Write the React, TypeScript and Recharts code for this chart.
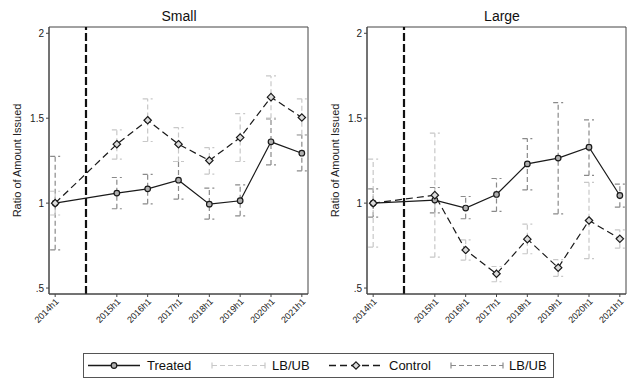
import React from 'react';
import { LineChart, Line, XAxis, YAxis, ErrorBar, ReferenceLine, ReferenceArea, Label } from 'recharts';

// ---- data ----
const periods: (string | null)[] = ['2014h1', null, '2015h1', '2016h1', '2017h1', '2018h1', '2019h1', '2020h1', '2021h1'];

const smallTreated = [1.0, null, 1.059, 1.084, 1.135, 0.994, 1.014, 1.361, 1.294];
const smallTreatedLB = [0.725, null, 0.967, 0.996, 1.024, 0.906, 0.925, 1.225, 1.19];
const smallTreatedUB = [1.275, null, 1.151, 1.169, 1.245, 1.088, 1.108, 1.496, 1.402];
const smallControl = [1.0, null, 1.347, 1.488, 1.347, 1.251, 1.386, 1.624, 1.504];
const smallControlLB = [0.93, null, 1.259, 1.363, 1.245, 1.171, 1.245, 1.5, 1.402];
const smallControlUB = [1.07, null, 1.431, 1.614, 1.445, 1.327, 1.527, 1.749, 1.614];

const largeTreated = [1.0, null, 1.018, 0.971, 1.051, 1.231, 1.265, 1.329, 1.045];
const largeTreatedLB = [0.918, null, 0.943, 0.908, 0.951, 1.078, 0.937, 1.163, 0.976];
const largeTreatedUB = [1.084, null, 1.092, 1.039, 1.145, 1.38, 1.592, 1.49, 1.112];
const largeControl = [1.0, null, 1.047, 0.724, 0.584, 0.788, 0.62, 0.898, 0.79];
const largeControlLB = [0.741, null, 0.682, 0.665, 0.537, 0.702, 0.569, 0.673, 0.735];
const largeControlUB = [1.259, null, 1.412, 0.784, 0.627, 0.876, 0.667, 1.122, 0.843];

const yTicks = [0.5, 1, 1.5, 2];
const yTickLabels = ['.5', '1', '1.5', '2'];
const treatmentGapIndex = periods.indexOf(null);

const legendLabels = ['Treated', 'LB/UB', 'Control', 'LB/UB'];
const yAxisTitle = 'Ratio of Amount Issued';

// ---- styling ----
const FONT = '"Liberation Sans", Arial, Helvetica, sans-serif';
const DARK_BAR = '#8a8a8a';
const LIGHT_BAR = '#c8c8c8';
const FRAME = '#444';
const X_DOMAIN: [number, number] = [-0.2, 8.2];
const Y_DOMAIN: [number, number] = [0.465, 2.037];

function buildRows(t: (number | null)[], tl: (number | null)[], tu: (number | null)[], c: (number | null)[], cl: (number | null)[], cu: (number | null)[]) {
  return periods.map((p, i) => {
    const tv = t[i];
    const cv = c[i];
    return {
      x: i,
      label: p,
      treated: tv,
      control: cv,
      tErr: tv == null ? null : [tv - (tl[i] as number), (tu[i] as number) - tv],
      cErr: cv == null ? null : [cv - (cl[i] as number), (cu[i] as number) - cv],
    };
  });
}

const smallRows = buildRows(smallTreated, smallTreatedLB, smallTreatedUB, smallControl, smallControlLB, smallControlUB);
const largeRows = buildRows(largeTreated, largeTreatedLB, largeTreatedUB, largeControl, largeControlLB, largeControlUB);
const xTicks = periods.map((p, i) => (p == null ? -1 : i)).filter((v) => v >= 0);

const renderTreatedDot = (props: any) => {
  const { cx, cy, value, index } = props;
  if (cx == null || cy == null || value == null) return <g key={`td-${index}`} />;
  return <circle key={`td-${index}`} cx={cx} cy={cy} r={2.8} fill="#b0b0b0" stroke="#1a1a1a" strokeWidth={1.2} />;
};

const renderControlDot = (props: any) => {
  const { cx, cy, value, index } = props;
  if (cx == null || cy == null || value == null) return <g key={`cd-${index}`} />;
  const s = 3.7;
  return (
    <path
      key={`cd-${index}`}
      d={`M${cx},${cy - s}L${cx + s},${cy}L${cx},${cy + s}L${cx - s},${cy}Z`}
      fill="#dcdcdc"
      stroke="#1a1a1a"
      strokeWidth={1.2}
    />
  );
};

const XTick = (props: any) => {
  const { x, y, payload } = props;
  const label = periods[payload.value];
  if (!label) return <g />;
  return (
    <g transform={`translate(${x + 2},${y + 1})`}>
      <text x={0} y={0} dy="0.35em" textAnchor="end" transform="rotate(-45)" fontSize={9} fill="#222" fontFamily={FONT}>
        {label}
      </text>
    </g>
  );
};

const yFormat = (v: number) => {
  const i = yTicks.indexOf(v);
  return i >= 0 ? yTickLabels[i] : String(v);
};

const YTitle = (props: any) => {
  const vb = props.viewBox || {};
  const cx = 17;
  const cy = (vb.y ?? 0) + (vb.height ?? 0) / 2;
  return (
    <text x={cx} y={cy} textAnchor="middle" dominantBaseline="central" transform={`rotate(-90, ${cx}, ${cy})`} fontSize={11} fill="#222" fontFamily={FONT}>
      {yAxisTitle}
    </text>
  );
};

function Panel({ rows }: { rows: any[] }) {
  return (
    <LineChart width={319} height={340} data={rows} margin={{ top: 27, right: 11, left: 0, bottom: 6 }}>
      <ReferenceArea x1={X_DOMAIN[0]} x2={X_DOMAIN[1]} y1={Y_DOMAIN[0]} y2={Y_DOMAIN[1]} fill="none" stroke={FRAME} strokeWidth={1} ifOverflow="visible" />
      <XAxis
        type="number"
        dataKey="x"
        domain={X_DOMAIN}
        allowDataOverflow
        ticks={xTicks}
        interval={0}
        tick={<XTick />}
        tickSize={3}
        tickMargin={2}
        height={40}
        axisLine={{ stroke: FRAME }}
        tickLine={{ stroke: FRAME }}
      />
      <YAxis
        type="number"
        domain={Y_DOMAIN}
        allowDataOverflow
        ticks={yTicks}
        tickFormatter={yFormat}
        width={49}
        tickSize={3}
        tickMargin={2}
        axisLine={{ stroke: FRAME }}
        tickLine={{ stroke: FRAME }}
        tick={{ fontSize: 10, fill: '#222', fontFamily: FONT }}
      >
        <Label content={<YTitle />} />
      </YAxis>
      <ReferenceLine x={treatmentGapIndex} stroke="#111" strokeWidth={2.2} strokeDasharray="8 3" />
      <Line
        type="linear"
        dataKey="treated"
        stroke="#1a1a1a"
        strokeWidth={1.2}
        connectNulls
        dot={renderTreatedDot}
        isAnimationActive={false}
      >
        <ErrorBar dataKey="tErr" direction="y" width={5} stroke={DARK_BAR} strokeWidth={1.2} strokeDasharray="5 3" />
      </Line>
      <Line
        type="linear"
        dataKey="control"
        stroke="#1a1a1a"
        strokeWidth={1.2}
        strokeDasharray="7 4"
        connectNulls
        dot={renderControlDot}
        isAnimationActive={false}
      >
        <ErrorBar dataKey="cErr" direction="y" width={5} stroke={LIGHT_BAR} strokeWidth={1.2} strokeDasharray="5 3" />
      </Line>
    </LineChart>
  );
}

function Legend() {
  const cy = 12.5;
  return (
    <svg width={471} height={25} style={{ position: 'absolute', left: 83, top: 353 }}>
      <rect x={0.5} y={0.5} width={470} height={24} fill="#fff" stroke="#555" />
      {/* Treated */}
      <line x1={5} x2={57} y1={cy} y2={cy} stroke="#1a1a1a" strokeWidth={1.3} />
      <circle cx={31} cy={cy} r={2.8} fill="#b0b0b0" stroke="#1a1a1a" strokeWidth={1.2} />
      <text x={64} y={cy} dominantBaseline="central" fontSize={13} fontFamily={FONT} fill="#111">{legendLabels[0]}</text>
      {/* LB/UB light */}
      <line x1={129} x2={182} y1={cy} y2={cy} stroke={LIGHT_BAR} strokeWidth={1.2} strokeDasharray="5 3" />
      <line x1={129} x2={129} y1={cy - 3} y2={cy + 3} stroke={LIGHT_BAR} strokeWidth={1.2} />
      <line x1={182} x2={182} y1={cy - 3} y2={cy + 3} stroke={LIGHT_BAR} strokeWidth={1.2} />
      <text x={189} y={cy} dominantBaseline="central" fontSize={13} fontFamily={FONT} fill="#111">{legendLabels[1]}</text>
      {/* Control */}
      <line x1={246} x2={301} y1={cy} y2={cy} stroke="#1a1a1a" strokeWidth={1.3} strokeDasharray="7 4" />
      <path d={`M273,${cy - 3.7}L276.7,${cy}L273,${cy + 3.7}L269.3,${cy}Z`} fill="#dcdcdc" stroke="#1a1a1a" strokeWidth={1.2} />
      <text x={306} y={cy} dominantBaseline="central" fontSize={13} fontFamily={FONT} fill="#111">{legendLabels[2]}</text>
      {/* LB/UB dark */}
      <line x1={368} x2={420} y1={cy} y2={cy} stroke={DARK_BAR} strokeWidth={1.2} strokeDasharray="5 3" />
      <line x1={368} x2={368} y1={cy - 3} y2={cy + 3} stroke={DARK_BAR} strokeWidth={1.2} />
      <line x1={420} x2={420} y1={cy - 3} y2={cy + 3} stroke={DARK_BAR} strokeWidth={1.2} />
      <text x={426} y={cy} dominantBaseline="central" fontSize={13} fontFamily={FONT} fill="#111">{legendLabels[3]}</text>
    </svg>
  );
}

const titleStyle = (center: number): React.CSSProperties => ({
  position: 'absolute',
  top: 8,
  left: center - 60,
  width: 120,
  textAlign: 'center',
  fontFamily: FONT,
  fontSize: 14,
  lineHeight: '16px',
  color: '#111',
});

export default function App() {
  return (
    <div style={{ position: 'absolute', left: 0, top: 0, width: 638, height: 383, background: '#fff', overflow: 'hidden' }}>
      <div style={{ position: 'absolute', left: 0, top: 0 }}>
        <Panel rows={smallRows} />
      </div>
      <div style={{ position: 'absolute', left: 318, top: 0 }}>
        <Panel rows={largeRows} />
      </div>
      <div style={titleStyle(179)}>Small</div>
      <div style={titleStyle(502)}>Large</div>
      <Legend />
    </div>
  );
}
